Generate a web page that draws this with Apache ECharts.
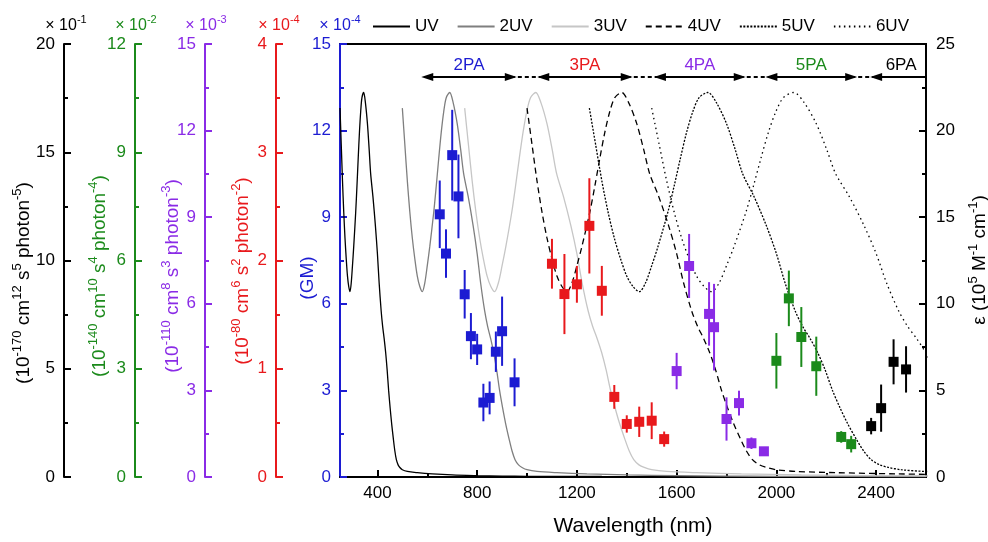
<!DOCTYPE html>
<html><head><meta charset="utf-8">
<script src="https://cdn.jsdelivr.net/npm/echarts@6/dist/echarts.min.js"></script>
<style>html,body{margin:0;padding:0;background:#fff}#c{width:988px;height:542px}</style>
</head><body><div id="c"></div>
<script>
const uvWavelength = [250,255,260,265,270,275,280,285,290,295,300,305,313,318,323,328,333,338,345,352,360,367,373,382,392,400,407,415,421,427,433,439,445,451,457,464,470,476,483,490,500,520,560,620,700,800,900,1000,1300];
const uvEpsilon   = [21.3,19.2,17.1,15.3,13.8,12.6,11.6,11.0,10.7,11.2,12.2,13.3,15.3,16.8,18.4,19.9,21.1,21.9,22.2,21.6,20.4,18.9,17.5,16.2,14.5,12.9,11.2,9.6,8.7,8.0,7.2,6.2,5.0,4.0,3.1,2.2,1.5,1.0,0.7,0.55,0.42,0.32,0.25,0.18,0.12,0.08,0.05,0.04,0.03];
// n-photon curves are the UV spectrum plotted at n x wavelength
const harmonicOrders = [1,2,3,4,5,6];
const curveNames = ['UV','2UV','3UV','4UV','5UV','6UV'];

// ---- multiphoton cross sections ----
const pa2Wavelength = [650,675,700,725,750,775,800,825,850,875,900,950];
const pa2Value = [9.10,7.74,11.15,9.72,6.33,4.88,4.42,2.58,2.74,4.34,5.05,3.28];
const pa2Error = [1.17,0.84,1.57,1.45,0.84,0.80,0.54,0.65,0.57,0.70,1.20,0.83];

const pa3Wavelength = [1100,1150,1200,1250,1300,1350,1400,1450,1500,1550];
const pa3Value = [1.97,1.69,1.78,2.32,1.72,0.74,0.49,0.51,0.52,0.35];
const pa3Error = [0.23,0.37,0.17,0.44,0.23,0.11,0.08,0.14,0.17,0.07];

const pa4Wavelength = [1600,1650,1730,1750,1800,1850,1900,1950];
const pa4Value = [3.67,7.31,5.65,5.19,2.01,2.56,1.17,0.89];
const pa4Error = [0.63,1.11,1.10,1.50,0.75,0.43,0.20,0.12];

const pa5Wavelength = [2000,2050,2100,2160,2260,2300];
const pa5Value = [3.22,4.95,3.88,3.07,1.11,0.91];
const pa5Error = [0.77,0.77,0.83,0.82,0.16,0.23];

const pa6Wavelength = [2380,2420,2470,2520];
const pa6Value = [2.35,3.18,5.32,4.97];
const pa6Error = [0.38,1.09,1.04,1.07];

// ---- axis ticks ----
const xMajorTicks = [400,800,1200,1600,2000,2400];
const xMinorTicks = [600,1000,1400,1800,2200];

// ---- regime annotations (arrow tips, nm; level on epsilon axis) ----
const paLabels = ['2PA','3PA','4PA','5PA','6PA'];
const paStart = [600,1065,1533,1980,2400];
const paEnd = [935,1400,1853,2300,2600];
const paLevel = 23.1;

const F = 'Liberation Sans, Arial, sans-serif';
const BLUE = '#1c1cd2', RED = '#e8191c', PURPLE = '#8a2be6', GREEN = '#1b8a1b', BLACK = '#000000';
const paColors = [BLUE, RED, PURPLE, GREEN, BLACK];

const curveStyles = [
  {color:'#000000', type:'solid'},
  {color:'#7f7f7f', type:'solid'},
  {color:'#c6c6c6', type:'solid'},
  {color:'#000000', type:[6,4]},
  {color:'#000000', type:[2,1.5]},
  {color:'#000000', type:[1.5,3.5]}
];

function leftAxis(color, max, interval, offset) {
  return {
    type:'value', position:'left', offset:offset, min:0, max:max, interval:interval,
    axisLine:{show:true, onZero:false, lineStyle:{color:color, width:2}},
    axisTick:{show:true, inside:true, length:7, lineStyle:{color:color, width:2}},
    minorTick:{show:true, splitNumber:2, length:4, lineStyle:{color:color, width:2}},
    axisLabel:{color:color, fontSize:17, margin:9, fontFamily:F},
    splitLine:{show:false}, minorSplitLine:{show:false}
  };
}

const series = [];
harmonicOrders.forEach(function(n, k){
  const st = curveStyles[k];
  series.push({
    type:'line', name:curveNames[k], xAxisIndex:0, yAxisIndex:5,
    symbol:'none', showSymbol:false, smooth:0.3, z:2, clip:true,
    data: uvWavelength.map(function(w,i){ return [w*n, uvEpsilon[i]]; }),
    lineStyle:{color:st.color, width:1.3, type:st.type},
    itemStyle:{color:st.color}
  });
});

// annotations on the UV series
const mlData = [];
paLabels.forEach(function(lab, i){
  mlData.push([
    {coord:[paStart[i], paLevel], symbol:'triangle', symbolSize:[8,12],
     lineStyle:{color:'#000', width:2, type:'solid'},
     label:{show:true, formatter:lab, position:'insideMiddleTop', distance:3, color:paColors[i], fontSize:17, fontFamily:F}},
    {coord:[paEnd[i], paLevel], symbol: i < paLabels.length-1 ? 'triangle' : 'none', symbolSize:[8,12]}
  ]);
  if (i < paLabels.length-1) {
    mlData.push([
      {coord:[paEnd[i], paLevel], symbol:'none', lineStyle:{color:'#000', width:2, type:[4,3]}, label:{show:false}},
      {coord:[paStart[i+1], paLevel], symbol:'none'}
    ]);
  }
});
series[0].markLine = {silent:true, symbol:['none','none'], label:{show:false}, data:mlData, animation:false};

function errSeries(color, yIdx, xs, ys, es) {
  return {
    type:'custom', xAxisIndex:0, yAxisIndex:yIdx, z:3, silent:true,
    data: xs.map(function(x,i){ return [x, ys[i]-es[i], ys[i]+es[i]]; }),
    encode:{x:0, y:[1,2]},
    renderItem:function(params, api){
      const lo = api.coord([api.value(0), api.value(1)]);
      const hi = api.coord([api.value(0), api.value(2)]);
      return {type:'line', shape:{x1:lo[0], y1:lo[1], x2:hi[0], y2:hi[1]}, style:{stroke:color, lineWidth:2}};
    }
  };
}
function ptSeries(color, yIdx, xs, ys) {
  return {
    type:'scatter', xAxisIndex:0, yAxisIndex:yIdx, z:4, symbol:'rect', symbolSize:10,
    itemStyle:{color:color, opacity:1},
    data: xs.map(function(x,i){ return [x, ys[i]]; })
  };
}
const sets = [
  [BLUE, 0, pa2Wavelength, pa2Value, pa2Error],
  [RED, 1, pa3Wavelength, pa3Value, pa3Error],
  [PURPLE, 2, pa4Wavelength, pa4Value, pa4Error],
  [GREEN, 3, pa5Wavelength, pa5Value, pa5Error],
  [BLACK, 4, pa6Wavelength, pa6Value, pa6Error]
];
sets.forEach(function(s){ series.push(errSeries(s[0], s[1], s[2], s[3], s[4])); });
sets.forEach(function(s){ series.push(ptSeries(s[0], s[1], s[2], s[3])); });

function richFor(color, big, small, lh) {
  return {
    n:{fontSize:big, fill:color, fontFamily:F, lineHeight:lh, verticalAlign:'bottom'},
    s:{fontSize:small, fill:color, fontFamily:F, lineHeight:small, verticalAlign:'top'}
  };
}
function rotText(x, y, text, color) {
  return {type:'text', x:x, y:y, rotation:Math.PI/2, silent:true,
    style:{text:text, fill:color, rich:richFor(color, 19, 13, 22), align:'center', verticalAlign:'middle'}};
}
function multText(x, y, exp, color) {
  return {type:'text', x:x, y:y, silent:true,
    style:{text:'{n|× 10}{s|' + exp + '}', fill:color, rich:richFor(color, 16, 11, 19), align:'center', verticalAlign:'middle'}};
}

const option = {
  animation:false,
  backgroundColor:'#ffffff',
  grid:{left:340, right:62, top:44, bottom:61, show:true, borderColor:'#000', borderWidth:2, backgroundColor:'transparent'},
  legend:{
    data:curveNames, left:372, top:18, itemWidth:37, itemHeight:14, itemGap:18, padding:0,
    textStyle:{fontSize:17, color:'#000', fontFamily:F},
    itemStyle:{opacity:0}
  },
  xAxis:[
    {type:'value', position:'bottom', min:250, max:2600,
     axisLine:{show:true, onZero:false, lineStyle:{color:'#000', width:2}},
     axisTick:{show:true, inside:true, length:7, customValues:xMajorTicks, lineStyle:{color:'#000', width:2}},
     axisLabel:{customValues:xMajorTicks, fontSize:17, color:'#000', margin:8, fontFamily:F,
                formatter:function(v){ return String(v); }},
     splitLine:{show:false},
     name:'Wavelength (nm)', nameLocation:'middle', nameGap:39,
     nameTextStyle:{fontSize:21, color:'#000', fontFamily:F}},
    {type:'value', position:'bottom', min:250, max:2600,
     axisLine:{show:false},
     axisTick:{show:true, inside:true, length:4, customValues:xMinorTicks, lineStyle:{color:'#000', width:2}},
     axisLabel:{show:false}, splitLine:{show:false}}
  ],
  yAxis:[
    leftAxis(BLUE, 15, 3, 0),
    leftAxis(RED, 4, 1, 64),
    leftAxis(PURPLE, 15, 3, 135),
    leftAxis(GREEN, 12, 3, 205),
    leftAxis(BLACK, 20, 5, 276),
    {type:'value', position:'right', min:0, max:25, interval:5,
     axisLine:{show:true, onZero:false, lineStyle:{color:'#000', width:2}},
     axisTick:{show:true, inside:true, length:7, lineStyle:{color:'#000', width:2}},
     minorTick:{show:true, splitNumber:2, length:4, lineStyle:{color:'#000', width:2}},
     axisLabel:{color:'#000', fontSize:17, margin:10, fontFamily:F},
     splitLine:{show:false}, minorSplitLine:{show:false}}
  ],
  graphic:[
    multText(66, 24, '-1', BLACK),
    multText(136, 24, '-2', GREEN),
    multText(206, 24, '-3', PURPLE),
    multText(279, 24, '-4', RED),
    multText(340, 24, '-4', BLUE),
    rotText(22, 283, '{n|(10}{s|-170}{n| cm}{s|12}{n| s}{s|5}{n| photon}{s|-5}{n|)}', BLACK),
    rotText(98, 276, '{n|(10}{s|-140}{n| cm}{s|10}{n| s}{s|4}{n| photon}{s|-4}{n|)}', GREEN),
    rotText(171, 276, '{n|(10}{s|-110}{n| cm}{s|8}{n| s}{s|3}{n| photon}{s|-3}{n|)}', PURPLE),
    rotText(241, 271, '{n|(10}{s|-80}{n| cm}{s|6}{n| s}{s|2}{n| photon}{s|-2}{n|)}', RED),
    rotText(306, 278, '{n|(GM)}', BLUE),
    rotText(978, 260, '{n|ε (10}{s|5}{n| M}{s|-1}{n| cm}{s|-1}{n|)}', BLACK)
  ],
  series:series
};
const chart = echarts.init(document.getElementById('c'), null, {renderer:'canvas'});
chart.setOption(option);
</script>
</body></html>
